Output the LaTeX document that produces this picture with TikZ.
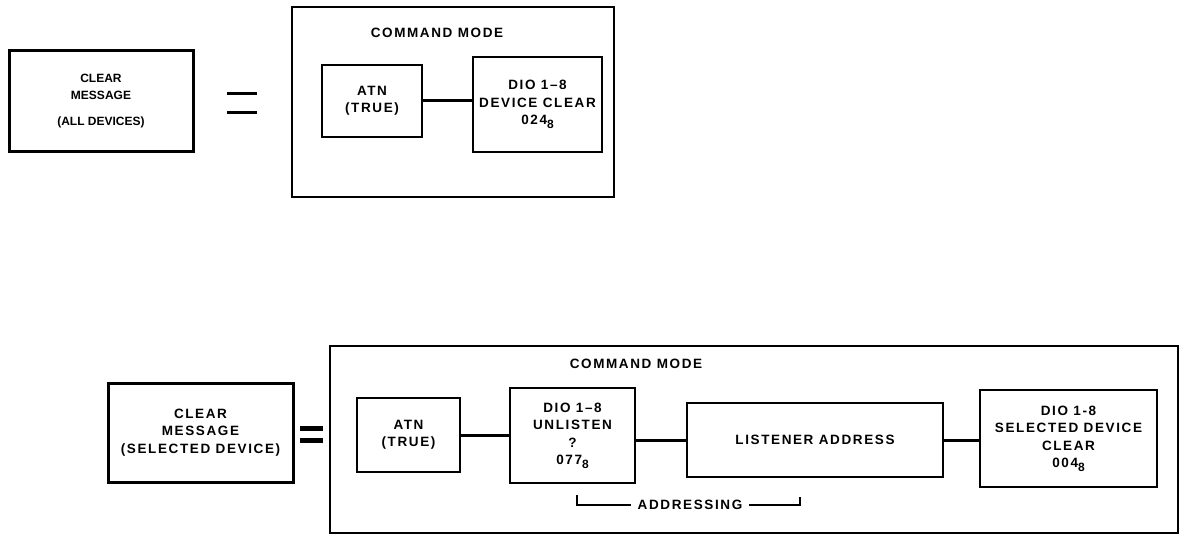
\documentclass[tikz,border=0pt]{standalone}
\usepackage{fontspec}
\newfontfamily\lblfont[LetterSpace=12]{Liberation Sans}
\newfontfamily\lblplain{Liberation Sans}
\usetikzlibrary{positioning}
\newcommand{\octsub}[1]{#1\raisebox{-0.5ex}{\fontsize{12}{12}\selectfont 8}}

\begin{document}
\begin{tikzpicture}[
  x=1pt,y=-1pt,
  every node/.style={inner sep=2pt,outer sep=0pt},
  lbl/.style={font=\lblfont\bfseries\fontsize{13.5}{17.5}\selectfont},
  msgbox/.style={draw,line width=3pt,align=center,lbl},
  modebox/.style={draw,line width=2.6pt},
  partbox/.style={draw,line width=1.8pt,align=center,lbl},
  link/.style={line width=3pt},
  eqbar/.style={line width=3pt},
  brace/.style={line width=1.2pt}
]
\useasboundingbox (0,0) rectangle (1180,537);

% Clear message, all devices
\node[msgbox,minimum width=184,minimum height=101,
  font=\lblplain\bfseries\fontsize{12}{17}\selectfont] (clrAll) at (101,101.5)
  {CLEAR\\MESSAGE\\[9pt](ALL DEVICES)};
\draw[eqbar] (227,94) -- (257,94);
\draw[eqbar] (227,113) -- (257,113);

\node[modebox,minimum width=322,minimum height=190] (modeA) at (453,102) {};
\node[lbl] (titleA) at (437,33) {COMMAND MODE};
\node[partbox,minimum width=100,minimum height=72] (atnA) at (372,101) {ATN\\(TRUE)};
\node[partbox,minimum width=129,minimum height=95] (devclr) at (537.5,104.5)
  {DIO 1–8\\DEVICE CLEAR\\\octsub{024}};
\draw[link] (atnA.east) -- (atnA.east -| devclr.west);

% Clear message, selected device
\node[msgbox,minimum width=185,minimum height=99] (clrSel) at (200.5,432.5)
  {CLEAR\\MESSAGE\\(SELECTED DEVICE)};
\draw[eqbar,line width=5pt] (300,428) -- (323,428);
\draw[eqbar,line width=5pt] (300,440) -- (323,440);

\node[modebox,minimum width=848,minimum height=187] (modeB) at (754,439.5) {};
\node[lbl] (titleB) at (636,364) {COMMAND MODE};
\node[partbox,minimum width=103,minimum height=74] (atnB) at (408.5,435) {ATN\\(TRUE)};
\node[partbox,minimum width=125,minimum height=95] (unl) at (572.5,435.5)
  {DIO 1–8\\UNLISTEN\\?\\\octsub{077}};
\node[partbox,minimum width=256,minimum height=74] (lsn) at (815,440) {LISTENER ADDRESS};
\node[partbox,minimum width=177,minimum height=97] (seldev) at (1068.5,438.5)
  {DIO 1-8\\SELECTED DEVICE\\CLEAR\\\octsub{004}};

\draw[link] (atnB.east) -- (atnB.east -| unl.west);
\draw[link] (unl.east |- lsn.west) -- (lsn.west);
\draw[link] (lsn.east) -- (lsn.east -| seldev.west);

% Addressing bracket
\node[lbl,inner sep=7pt] (addr) at (690,505) {ADDRESSING};
\coordinate (brL) at (577,495);
\coordinate (brR) at (800,497);
\draw[brace] (brL) |- (addr.west);
\draw[brace] (addr.east) -| (brR);

\end{tikzpicture}
\end{document}
